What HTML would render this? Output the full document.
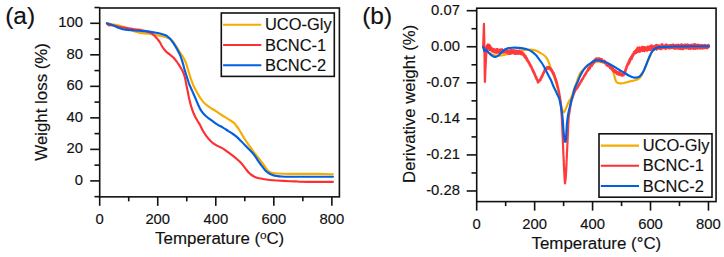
<!DOCTYPE html>
<html><head><meta charset="utf-8"><style>
html,body{margin:0;padding:0;background:#fff;width:724px;height:257px;overflow:hidden;}
svg{display:block;}
</style></head><body>
<svg width="724" height="257" viewBox="0 0 724 257">
<rect width="724" height="257" fill="#fff"/>
<g fill="none" stroke-width="2.15" stroke-linejoin="round" stroke-linecap="round">
<path d="M106.90,23.20 C107.42,23.32 108.90,23.68 110.00,23.90 C111.10,24.12 112.33,24.28 113.50,24.50 C114.67,24.72 115.48,24.85 117.00,25.20 C118.52,25.55 120.93,26.08 122.60,26.60 C124.27,27.12 125.60,27.75 127.00,28.30 C128.40,28.85 129.67,29.37 131.00,29.90 C132.33,30.43 133.67,31.05 135.00,31.50 C136.33,31.95 137.83,32.33 139.00,32.60 C140.17,32.87 140.33,32.90 142.00,33.10 C143.67,33.30 146.67,33.47 149.00,33.80 C151.33,34.13 154.17,34.77 156.00,35.10 C157.83,35.43 158.75,35.58 160.00,35.80 C161.25,36.02 162.33,36.12 163.50,36.40 C164.67,36.68 165.92,37.08 167.00,37.50 C168.08,37.92 169.08,38.32 170.00,38.90 C170.92,39.48 171.70,40.15 172.50,41.00 C173.30,41.85 174.05,42.92 174.80,44.00 C175.55,45.08 176.25,46.25 177.00,47.50 C177.75,48.75 178.58,50.33 179.30,51.50 C180.02,52.67 180.70,53.67 181.30,54.50 C181.90,55.33 182.37,55.62 182.90,56.50 C183.43,57.38 183.98,58.72 184.50,59.80 C185.02,60.88 185.55,61.83 186.00,63.00 C186.45,64.17 186.82,65.53 187.20,66.80 C187.58,68.07 187.92,69.32 188.30,70.60 C188.68,71.88 189.10,73.22 189.50,74.50 C189.90,75.78 190.30,77.12 190.70,78.30 C191.10,79.48 191.52,80.57 191.90,81.60 C192.28,82.63 192.57,83.47 193.00,84.50 C193.43,85.53 193.98,86.75 194.50,87.80 C195.02,88.85 195.45,89.63 196.10,90.80 C196.75,91.97 197.72,93.63 198.40,94.80 C199.08,95.97 199.43,96.67 200.20,97.80 C200.97,98.93 201.97,100.42 203.00,101.60 C204.03,102.78 205.07,103.80 206.40,104.90 C207.73,106.00 209.43,107.17 211.00,108.20 C212.57,109.23 214.22,110.10 215.80,111.10 C217.38,112.10 218.95,113.18 220.50,114.20 C222.05,115.22 223.60,116.25 225.10,117.20 C226.60,118.15 228.07,119.00 229.50,119.90 C230.93,120.80 232.58,121.65 233.70,122.60 C234.82,123.55 235.32,124.45 236.20,125.60 C237.08,126.75 237.97,127.90 239.00,129.50 C240.03,131.10 241.40,133.53 242.40,135.20 C243.40,136.87 244.08,138.07 245.00,139.50 C245.92,140.93 246.97,142.43 247.90,143.80 C248.83,145.17 249.70,146.42 250.60,147.70 C251.50,148.98 252.57,150.52 253.30,151.50 C254.03,152.48 254.22,152.65 255.00,153.60 C255.78,154.55 256.98,155.92 258.00,157.20 C259.02,158.48 260.07,159.90 261.10,161.30 C262.13,162.70 263.17,164.17 264.20,165.60 C265.23,167.03 266.33,168.80 267.30,169.90 C268.27,171.00 269.13,171.68 270.00,172.20 C270.87,172.72 271.38,172.78 272.50,173.00 C273.62,173.22 273.78,173.35 276.70,173.50 C279.62,173.65 282.78,173.83 290.00,173.90 C297.22,173.97 312.85,173.83 320.00,173.90 C327.15,173.97 330.75,174.23 332.90,174.30" stroke="#f6ab00"/>
<path d="M107.00,23.50 C107.17,23.68 107.62,24.28 108.00,24.60 C108.38,24.92 108.80,25.30 109.30,25.40 C109.80,25.50 110.22,25.17 111.00,25.20 C111.78,25.23 112.83,25.38 114.00,25.60 C115.17,25.82 116.33,26.17 118.00,26.50 C119.67,26.83 121.83,27.25 124.00,27.60 C126.17,27.95 129.17,28.32 131.00,28.60 C132.83,28.88 133.17,29.03 135.00,29.30 C136.83,29.57 140.02,29.85 142.00,30.20 C143.98,30.55 145.38,30.92 146.90,31.40 C148.42,31.88 149.93,32.47 151.10,33.10 C152.27,33.73 153.08,34.47 153.90,35.20 C154.72,35.93 155.30,36.73 156.00,37.50 C156.70,38.27 157.45,39.00 158.10,39.80 C158.75,40.60 159.20,41.13 159.90,42.30 C160.60,43.47 161.53,45.55 162.30,46.80 C163.07,48.05 163.72,48.87 164.50,49.80 C165.28,50.73 166.08,51.60 167.00,52.40 C167.92,53.20 168.95,53.73 170.00,54.60 C171.05,55.47 172.22,56.48 173.30,57.60 C174.38,58.72 175.58,60.13 176.50,61.30 C177.42,62.47 178.12,63.55 178.80,64.60 C179.48,65.65 180.02,66.62 180.60,67.60 C181.18,68.58 181.78,69.48 182.30,70.50 C182.82,71.52 183.25,72.45 183.70,73.70 C184.15,74.95 184.62,76.45 185.00,78.00 C185.38,79.55 185.67,81.33 186.00,83.00 C186.33,84.67 186.70,86.58 187.00,88.00 C187.30,89.42 187.55,90.25 187.80,91.50 C188.05,92.75 188.25,94.20 188.50,95.50 C188.75,96.80 188.93,97.75 189.30,99.30 C189.67,100.85 190.18,102.98 190.70,104.80 C191.22,106.62 191.82,108.53 192.40,110.20 C192.98,111.87 193.55,113.37 194.20,114.80 C194.85,116.23 195.63,117.60 196.30,118.80 C196.97,120.00 197.58,120.97 198.20,122.00 C198.82,123.03 199.22,123.53 200.00,125.00 C200.78,126.47 201.77,128.85 202.90,130.80 C204.03,132.75 205.35,134.83 206.80,136.70 C208.25,138.57 209.82,140.47 211.60,142.00 C213.38,143.53 215.93,144.97 217.50,145.90 C219.07,146.83 219.83,146.98 221.00,147.60 C222.17,148.22 223.33,148.83 224.50,149.60 C225.67,150.37 226.92,151.40 228.00,152.20 C229.08,153.00 230.00,153.65 231.00,154.40 C232.00,155.15 233.03,155.93 234.00,156.70 C234.97,157.47 235.90,158.23 236.80,159.00 C237.70,159.77 238.45,160.37 239.40,161.30 C240.35,162.23 241.48,163.38 242.50,164.60 C243.52,165.82 244.47,167.27 245.50,168.60 C246.53,169.93 247.70,171.53 248.70,172.60 C249.70,173.67 250.47,174.28 251.50,175.00 C252.53,175.72 253.65,176.35 254.90,176.90 C256.15,177.45 257.45,177.92 259.00,178.30 C260.55,178.68 262.37,178.92 264.20,179.20 C266.03,179.48 267.92,179.78 270.00,180.00 C272.08,180.22 273.37,180.30 276.70,180.50 C280.03,180.70 286.78,181.05 290.00,181.20 C293.22,181.35 294.33,181.31 296.00,181.40 C297.67,181.49 297.67,181.68 300.00,181.75 C302.33,181.82 304.52,181.82 310.00,181.85 C315.48,181.88 329.08,181.89 332.90,181.90" stroke="#ff2e32"/>
<path d="M106.90,23.40 C107.42,23.55 108.78,23.92 110.00,24.30 C111.22,24.68 112.80,25.12 114.20,25.70 C115.60,26.28 117.00,27.22 118.40,27.80 C119.80,28.38 121.08,28.85 122.60,29.20 C124.12,29.55 125.52,29.68 127.50,29.90 C129.48,30.12 132.08,30.32 134.50,30.50 C136.92,30.68 139.58,30.82 142.00,31.00 C144.42,31.18 146.67,31.31 149.00,31.60 C151.33,31.89 153.90,32.35 156.00,32.75 C158.10,33.15 160.00,33.58 161.60,34.00 C163.20,34.42 164.45,34.75 165.60,35.30 C166.75,35.85 167.68,36.65 168.50,37.30 C169.32,37.95 169.78,38.37 170.50,39.20 C171.22,40.03 172.05,41.23 172.80,42.30 C173.55,43.37 174.22,44.32 175.00,45.60 C175.78,46.88 176.75,48.63 177.50,50.00 C178.25,51.37 178.95,52.63 179.50,53.80 C180.05,54.97 180.37,55.83 180.80,57.00 C181.23,58.17 181.68,59.50 182.10,60.80 C182.52,62.10 182.92,63.43 183.30,64.80 C183.68,66.17 184.02,67.63 184.40,69.00 C184.78,70.37 185.20,71.70 185.60,73.00 C186.00,74.30 186.40,75.55 186.80,76.80 C187.20,78.05 187.62,79.33 188.00,80.50 C188.38,81.67 188.72,82.77 189.10,83.80 C189.48,84.83 189.92,85.80 190.30,86.70 C190.68,87.60 190.82,87.90 191.40,89.20 C191.98,90.50 193.10,92.93 193.80,94.50 C194.50,96.07 194.90,96.93 195.60,98.60 C196.30,100.27 197.10,102.53 198.00,104.50 C198.90,106.47 199.92,108.68 201.00,110.40 C202.08,112.12 203.33,113.57 204.50,114.80 C205.67,116.03 206.58,116.70 208.00,117.80 C209.42,118.90 211.33,120.23 213.00,121.40 C214.67,122.57 216.33,123.77 218.00,124.80 C219.67,125.83 221.33,126.60 223.00,127.60 C224.67,128.60 226.33,129.73 228.00,130.80 C229.67,131.87 231.50,132.95 233.00,134.00 C234.50,135.05 235.67,135.93 237.00,137.10 C238.33,138.27 239.70,139.70 241.00,141.00 C242.30,142.30 243.55,143.60 244.80,144.90 C246.05,146.20 247.38,147.65 248.50,148.80 C249.62,149.95 250.42,150.60 251.50,151.80 C252.58,153.00 253.92,154.53 255.00,156.00 C256.08,157.47 257.00,159.13 258.00,160.60 C259.00,162.07 259.97,163.38 261.00,164.80 C262.03,166.22 263.20,167.90 264.20,169.10 C265.20,170.30 266.08,171.22 267.00,172.00 C267.92,172.78 268.70,173.27 269.70,173.80 C270.70,174.33 271.78,174.83 273.00,175.20 C274.22,175.57 275.62,175.78 277.00,176.00 C278.38,176.22 279.13,176.38 281.30,176.50 C283.47,176.62 285.22,176.71 290.00,176.75 C294.78,176.79 302.85,176.75 310.00,176.75 C317.15,176.75 329.08,176.75 332.90,176.75" stroke="#0060e0"/>
</g>
<g fill="none" stroke-width="2.15" stroke-linejoin="round" stroke-linecap="round">
<path d="M483.40,47.20 C483.55,47.77 483.93,50.17 484.30,50.60 C484.67,51.03 484.98,49.57 485.60,49.80 C486.22,50.03 487.10,51.30 488.00,52.00 C488.90,52.70 490.00,53.47 491.00,54.00 C492.00,54.53 493.00,54.93 494.00,55.20 C495.00,55.47 496.10,55.53 497.00,55.60 C497.90,55.67 498.43,55.65 499.40,55.60 C500.37,55.55 501.52,55.53 502.80,55.30 C504.08,55.07 505.67,54.58 507.10,54.20 C508.53,53.82 509.97,53.40 511.40,53.00 C512.83,52.60 514.27,52.17 515.70,51.80 C517.13,51.43 518.58,51.10 520.00,50.80 C521.42,50.50 522.63,50.20 524.20,50.00 C525.77,49.80 527.97,49.62 529.40,49.60 C530.83,49.58 531.52,49.67 532.80,49.90 C534.08,50.13 535.90,50.52 537.10,51.00 C538.30,51.48 539.02,52.22 540.00,52.80 C540.98,53.38 541.98,53.75 543.00,54.50 C544.02,55.25 545.27,56.30 546.10,57.30 C546.93,58.30 547.43,59.33 548.00,60.50 C548.57,61.67 549.00,62.92 549.50,64.30 C550.00,65.68 550.50,67.43 551.00,68.80 C551.50,70.17 551.92,71.00 552.50,72.50 C553.08,74.00 553.87,75.97 554.50,77.80 C555.13,79.63 555.72,81.47 556.30,83.50 C556.88,85.53 557.48,87.83 558.00,90.00 C558.52,92.17 558.92,94.17 559.40,96.50 C559.88,98.83 560.47,101.92 560.90,104.00 C561.33,106.08 561.65,107.70 562.00,109.00 C562.35,110.30 562.70,111.22 563.00,111.80 C563.30,112.38 563.50,112.63 563.80,112.50 C564.10,112.37 564.40,111.78 564.80,111.00 C565.20,110.22 565.73,108.90 566.20,107.80 C566.67,106.70 567.13,105.48 567.60,104.40 C568.07,103.32 568.43,102.33 569.00,101.30 C569.57,100.27 570.38,99.50 571.00,98.20 C571.62,96.90 572.08,95.28 572.70,93.50 C573.32,91.72 574.02,89.45 574.70,87.50 C575.38,85.55 576.17,83.58 576.80,81.80 C577.43,80.02 577.88,78.33 578.50,76.80 C579.12,75.27 579.78,73.70 580.50,72.60 C581.22,71.50 581.97,71.07 582.80,70.20 C583.63,69.33 584.58,68.28 585.50,67.40 C586.42,66.52 587.35,65.57 588.30,64.90 C589.25,64.23 589.98,63.90 591.20,63.40 C592.42,62.90 594.22,62.20 595.60,61.90 C596.98,61.60 598.22,61.52 599.50,61.60 C600.78,61.68 602.13,62.03 603.30,62.40 C604.47,62.77 605.47,63.23 606.50,63.80 C607.53,64.37 608.67,65.13 609.50,65.80 C610.33,66.47 610.95,67.07 611.50,67.80 C612.05,68.53 612.42,69.25 612.80,70.20 C613.18,71.15 613.50,72.37 613.80,73.50 C614.10,74.63 614.32,75.92 614.60,77.00 C614.88,78.08 615.15,79.12 615.50,80.00 C615.85,80.88 616.12,81.77 616.70,82.30 C617.28,82.83 618.10,83.03 619.00,83.20 C619.90,83.37 620.93,83.43 622.10,83.30 C623.27,83.17 624.70,82.72 626.00,82.40 C627.30,82.08 628.73,81.68 629.90,81.40 C631.07,81.12 631.97,80.95 633.00,80.70 C634.03,80.45 635.13,80.25 636.10,79.90 C637.07,79.55 638.02,79.15 638.80,78.60 C639.58,78.05 640.17,77.48 640.80,76.60 C641.43,75.72 642.07,74.35 642.60,73.30 C643.13,72.25 643.53,71.35 644.00,70.30 C644.47,69.25 644.90,68.22 645.40,67.00 C645.90,65.78 646.48,64.22 647.00,63.00 C647.52,61.78 648.00,60.83 648.50,59.70 C649.00,58.57 649.50,57.35 650.00,56.20 C650.50,55.05 650.95,53.83 651.50,52.80 C652.05,51.77 652.68,50.72 653.30,50.00 C653.92,49.28 654.55,48.90 655.20,48.50 C655.85,48.10 656.40,47.83 657.20,47.60 C658.00,47.37 658.87,47.22 660.00,47.10 C661.13,46.98 661.70,47.00 664.00,46.90 C666.30,46.80 669.47,46.60 673.80,46.50 C678.13,46.40 684.13,46.33 690.00,46.30 C695.87,46.27 705.83,46.30 709.00,46.30" stroke="#f6ab00"/>
<path d="M483.10,47.50 L483.12,47.05 L483.13,46.60 L483.15,46.15 L483.17,45.70 L483.18,45.25 L483.20,44.80 L483.22,44.35 L483.23,43.90 L483.25,43.45 L483.27,43.00 L483.28,42.55 L483.30,42.10 L483.32,41.65 L483.33,41.20 L483.35,40.75 L483.37,40.30 L483.38,39.85 L483.40,39.40 L483.42,38.95 L483.43,38.50 L483.45,38.05 L483.47,37.60 L483.48,37.15 L483.50,36.70 L483.52,36.25 L483.53,35.80 L483.55,35.35 L483.57,34.90 L483.58,34.45 L483.60,34.00 L483.62,33.54 L483.63,33.07 L483.65,32.61 L483.66,32.15 L483.68,31.68 L483.70,31.22 L483.71,30.75 L483.73,30.29 L483.74,29.83 L483.76,29.36 L483.77,28.90 L483.79,28.44 L483.81,27.97 L483.82,27.51 L483.84,27.05 L483.85,26.58 L483.87,26.12 L483.89,25.65 L483.90,25.19 L483.92,24.73 L483.93,24.26 L483.95,23.80 L483.96,24.25 L483.97,24.70 L483.98,25.15 L483.99,25.60 L484.00,26.05 L484.01,26.50 L484.02,26.95 L484.03,27.40 L484.04,27.85 L484.05,28.30 L484.06,28.75 L484.07,29.20 L484.08,29.65 L484.09,30.10 L484.10,30.55 L484.11,31.00 L484.12,31.45 L484.12,31.90 L484.13,32.35 L484.14,32.80 L484.15,33.25 L484.16,33.70 L484.17,34.15 L484.18,34.60 L484.19,35.05 L484.20,35.50 L484.21,35.95 L484.22,36.40 L484.23,36.85 L484.24,37.30 L484.25,37.75 L484.26,38.20 L484.27,38.65 L484.28,39.10 L484.29,39.55 L484.30,40.00 L484.31,40.46 L484.31,40.92 L484.32,41.38 L484.32,41.83 L484.33,42.29 L484.34,42.75 L484.34,43.21 L484.35,43.67 L484.36,44.12 L484.36,44.58 L484.37,45.04 L484.38,45.50 L484.38,45.96 L484.39,46.42 L484.39,46.88 L484.40,47.33 L484.41,47.79 L484.41,48.25 L484.42,48.71 L484.43,49.17 L484.43,49.62 L484.44,50.08 L484.44,50.54 L484.45,51.00 L484.46,51.46 L484.46,51.92 L484.47,52.38 L484.48,52.83 L484.48,53.29 L484.49,53.75 L484.49,54.21 L484.50,54.67 L484.51,55.12 L484.51,55.58 L484.52,56.04 L484.53,56.50 L484.53,56.96 L484.54,57.42 L484.54,57.88 L484.55,58.33 L484.56,58.79 L484.56,59.25 L484.57,59.71 L484.58,60.17 L484.58,60.62 L484.59,61.08 L484.59,61.54 L484.60,62.00 L484.61,62.46 L484.61,62.91 L484.62,63.37 L484.62,63.83 L484.63,64.29 L484.63,64.74 L484.64,65.20 L484.65,65.66 L484.65,66.11 L484.66,66.57 L484.66,67.03 L484.67,67.49 L484.67,67.94 L484.68,68.40 L484.69,68.86 L484.69,69.31 L484.70,69.77 L484.70,70.23 L484.71,70.69 L484.71,71.14 L484.72,71.60 L484.73,72.06 L484.73,72.51 L484.74,72.97 L484.74,73.43 L484.75,73.89 L484.75,74.34 L484.76,74.80 L484.77,75.26 L484.77,75.71 L484.78,76.17 L484.78,76.63 L484.79,77.09 L484.79,77.54 L484.80,78.00 L484.82,78.50 L484.84,79.00 L484.86,79.50 L484.88,80.00 L484.89,80.50 L484.91,81.00 L484.93,81.50 L484.95,82.00 L484.97,81.54 L484.98,81.08 L485.00,80.62 L485.02,80.15 L485.04,79.69 L485.05,79.23 L485.07,78.77 L485.09,78.31 L485.11,77.85 L485.12,77.38 L485.14,76.92 L485.16,76.46 L485.17,76.00 L485.19,75.54 L485.21,75.08 L485.23,74.62 L485.24,74.15 L485.26,73.69 L485.28,73.23 L485.30,72.77 L485.31,72.31 L485.33,71.85 L485.35,71.38 L485.37,70.92 L485.38,70.46 L485.40,70.00 L485.42,69.55 L485.45,69.09 L485.47,68.64 L485.50,68.18 L485.52,67.73 L485.55,67.27 L485.57,66.82 L485.59,66.36 L485.62,65.91 L485.64,65.45 L485.67,65.00 L485.69,64.55 L485.72,64.09 L485.74,63.64 L485.76,63.18 L485.79,62.73 L485.81,62.27 L485.84,61.82 L485.86,61.36 L485.88,60.91 L485.91,60.45 L485.93,60.00 L485.96,59.55 L485.98,59.09 L486.01,58.64 L486.03,58.18 L486.05,57.73 L486.08,57.27 L486.10,56.82 L486.13,56.36 L486.15,55.91 L486.18,55.45 L486.20,55.00 L486.26,54.55 L486.32,54.11 L486.37,53.66 L486.43,53.21 L486.49,52.76 L486.55,52.32 L486.61,51.87 L486.66,51.42 L486.72,50.97 L486.78,50.53 L486.84,50.08 L486.89,49.63 L486.95,49.18 L487.01,48.74 L487.07,48.29 L487.13,47.84 L487.18,47.39 L487.24,46.95 L487.30,46.50 L487.45,46.00 L487.60,45.50 L487.75,45.00 L487.90,44.50 L488.35,44.90 L488.80,46.55 L489.04,44.86 L489.28,47.08 L489.52,45.26 L489.76,48.46 L490.00,45.50 L490.22,48.95 L490.44,46.27 L490.66,50.09 L490.88,47.58 L491.10,50.54 L491.51,48.08 L491.92,51.37 L492.33,48.56 L492.74,51.74 L493.16,48.88 L493.57,51.50 L493.98,49.16 L494.39,52.50 L494.80,50.17 L495.26,52.31 L495.71,49.68 L496.17,52.94 L496.63,48.99 L497.09,52.25 L497.54,49.04 L498.00,52.81 L498.46,49.91 L498.92,52.37 L499.38,50.10 L499.84,52.85 L500.30,49.36 L500.79,52.97 L501.27,49.24 L501.76,52.73 L502.24,49.38 L502.73,52.65 L503.21,50.30 L503.70,52.74 L504.19,50.54 L504.67,52.30 L505.16,49.67 L505.64,52.34 L506.13,50.77 L506.61,52.58 L507.10,49.86 L507.57,52.80 L508.05,51.07 L508.52,53.74 L508.99,50.97 L509.46,53.78 L509.94,50.25 L510.41,53.80 L510.88,49.91 L511.35,53.49 L511.83,50.16 L512.30,52.78 L512.76,50.22 L513.23,53.43 L513.69,50.29 L514.15,52.88 L514.62,50.24 L515.08,54.01 L515.55,51.18 L516.01,53.18 L516.47,50.50 L516.94,53.87 L517.40,50.93 L517.84,53.07 L518.29,51.10 L518.73,53.83 L519.17,50.58 L519.61,53.70 L520.06,51.28 L520.50,53.88 L520.93,51.62 L521.37,54.37 L521.80,52.45 L522.23,54.48 L522.67,52.39 L523.10,54.87 L523.40,53.22 L523.70,55.41 L524.00,54.05 L524.30,56.73 L524.60,54.84 L524.90,57.29 L525.20,55.79 L525.50,58.19 L525.80,56.19 L526.05,58.53 L526.31,57.74 L526.56,59.90 L526.82,57.81 L527.07,60.51 L527.33,59.06 L527.58,61.51 L527.84,60.11 L528.09,61.76 L528.35,61.06 L528.60,62.80 L528.83,61.82 L529.06,63.41 L529.29,62.41 L529.52,64.79 L529.75,63.55 L529.98,65.47 L530.21,64.33 L530.44,66.44 L530.67,65.07 L530.90,66.88 L531.11,66.19 L531.32,67.56 L531.53,66.85 L531.74,68.67 L531.95,67.93 L532.15,69.51 L532.36,68.68 L532.57,70.66 L532.78,69.66 L532.99,71.67 L533.20,70.27 L533.38,72.24 L533.57,71.13 L533.75,73.25 L533.94,71.72 L534.12,73.90 L534.31,72.81 L534.49,74.86 L534.68,73.39 L534.86,75.48 L535.05,74.32 L535.23,76.73 L535.42,75.36 L535.60,77.05 L535.79,76.37 L535.98,78.25 L536.17,76.91 L536.37,79.27 L536.56,77.63 L536.75,79.61 L536.94,78.95 L537.13,80.47 L537.33,79.81 L537.52,81.64 L537.71,80.18 L537.90,82.63 L538.28,80.77 L538.67,82.07 L539.05,80.19 L539.43,81.22 L539.82,79.36 L540.20,80.45 L540.40,79.13 L540.60,80.15 L540.80,78.16 L541.00,78.97 L541.20,77.12 L541.40,78.37 L541.60,76.69 L541.80,77.29 L542.00,75.55 L542.20,76.57 L542.40,74.88 L542.60,75.80 L542.81,73.50 L543.02,74.79 L543.23,72.92 L543.44,73.72 L543.65,72.24 L543.85,73.24 L544.06,71.48 L544.27,72.53 L544.48,70.04 L544.69,71.09 L544.90,69.14 L545.22,70.45 L545.54,68.46 L545.86,69.93 L546.18,68.00 L546.50,69.07 L547.00,67.15 L547.50,68.76 L548.00,67.03 L548.53,68.72 L549.07,66.93 L549.60,69.07 L549.98,67.78 L550.35,69.37 L550.73,68.51 L551.10,70.24 L551.34,69.09 L551.58,71.25 L551.82,69.98 L552.06,71.68 L552.30,70.70 L552.54,72.78 L552.78,71.82 L553.02,73.74 L553.26,72.26 L553.50,73.97 L553.66,72.88 L553.83,74.86 L553.99,74.19 L554.16,76.14 L554.32,74.87 L554.49,76.90 L554.65,75.70 L554.81,77.70 L554.98,76.81 L555.14,78.37 L555.31,77.86 L555.47,79.63 L555.64,78.24 L555.80,80.37 L555.94,79.14 L556.07,81.15 L556.21,80.39 L556.35,82.08 L556.48,80.86 L556.62,82.74 L556.75,82.04 L556.89,83.80 L557.03,82.76 L557.16,84.78 L557.30,83.98 L557.41,85.72 L557.52,84.72 L557.63,86.87 L557.74,85.74 L557.85,87.82 L557.95,86.81 L558.06,87.85 L558.17,88.06 L558.28,88.71 L558.39,88.84 L558.50,89.71 L558.59,89.84 L558.68,90.53 L558.77,90.72 L558.87,91.54 L558.96,91.57 L559.05,92.46 L559.14,92.52 L559.23,93.28 L559.33,93.47 L559.42,94.20 L559.51,94.37 L559.60,95.18 L559.67,95.34 L559.74,96.05 L559.81,96.17 L559.88,96.94 L559.95,97.09 L560.02,98.00 L560.08,97.99 L560.15,98.84 L560.22,98.98 L560.29,99.80 L560.36,99.89 L560.43,100.78 L560.50,100.80 L560.55,101.60 L560.59,101.71 L560.64,102.57 L560.69,102.68 L560.73,103.54 L560.78,103.71 L560.83,104.48 L560.87,104.54 L560.92,105.37 L560.97,105.49 L561.01,106.30 L561.06,106.48 L561.11,107.24 L561.15,107.44 L561.20,108.17 L561.23,108.26 L561.25,109.07 L561.28,109.18 L561.31,110.06 L561.34,110.04 L561.36,110.84 L561.39,110.97 L561.42,111.83 L561.45,112.00 L561.47,112.69 L561.50,112.87 L561.53,113.55 L561.55,113.73 L561.58,114.60 L561.61,114.68 L561.64,115.50 L561.66,115.53 L561.69,116.29 L561.72,116.41 L561.75,117.28 L561.77,117.31 L561.80,118.20 L561.82,118.25 L561.85,119.05 L561.87,119.15 L561.89,120.06 L561.91,120.05 L561.94,120.89 L561.96,120.97 L561.98,121.80 L562.00,121.99 L562.03,122.64 L562.05,122.90 L562.07,123.57 L562.10,123.80 L562.12,124.53 L562.14,124.62 L562.16,125.45 L562.19,125.57 L562.21,126.37 L562.23,126.50 L562.25,127.25 L562.28,127.33 L562.30,128.15 L562.32,128.34 L562.34,129.16 L562.36,129.18 L562.38,129.99 L562.40,130.16 L562.42,130.94 L562.43,131.05 L562.45,131.82 L562.47,132.07 L562.49,132.74 L562.51,132.86 L562.53,133.65 L562.55,133.84 L562.57,134.58 L562.59,134.80 L562.61,135.50 L562.63,135.69 L562.65,136.42 L562.67,136.68 L562.68,137.34 L562.70,137.58 L562.72,138.32 L562.74,138.52 L562.76,139.17 L562.78,139.38 L562.80,140.15 L562.82,140.26 L562.84,141.02 L562.86,141.23 L562.88,142.00 L562.90,142.22 L562.92,143.01 L562.93,143.11 L562.95,143.80 L562.97,143.99 L562.99,144.73 L563.01,144.89 L563.03,145.68 L563.05,145.89 L563.07,146.56 L563.09,146.72 L563.11,147.52 L563.13,147.63 L563.15,148.47 L563.17,148.53 L563.18,149.37 L563.20,149.56 L563.22,150.28 L563.24,150.40 L563.26,151.27 L563.28,151.39 L563.30,152.10 L563.32,152.27 L563.34,153.17 L563.36,153.21 L563.39,153.95 L563.41,154.23 L563.43,154.89 L563.45,155.13 L563.47,155.81 L563.49,156.08 L563.51,156.84 L563.54,156.87 L563.56,157.69 L563.58,157.79 L563.60,158.66 L563.62,158.75 L563.64,159.67 L563.66,159.65 L563.69,160.45 L563.71,160.68 L563.73,161.47 L563.75,161.51 L563.77,162.32 L563.79,162.54 L563.81,163.37 L563.84,163.50 L563.86,164.22 L563.88,164.39 L563.90,165.20 L563.92,165.22 L563.95,166.04 L563.97,166.18 L563.99,167.05 L564.02,167.08 L564.04,167.95 L564.06,167.99 L564.08,168.84 L564.11,169.00 L564.13,169.74 L564.15,169.86 L564.18,170.70 L564.20,170.87 L564.22,171.58 L564.25,171.72 L564.27,172.57 L564.29,172.64 L564.32,173.46 L564.34,173.60 L564.36,174.34 L564.38,174.49 L564.41,175.25 L564.43,175.45 L564.45,176.29 L564.48,176.34 L564.50,177.10 L564.54,177.32 L564.57,178.12 L564.61,178.16 L564.64,179.03 L564.68,179.02 L564.71,179.86 L564.75,179.92 L564.79,180.81 L564.82,180.91 L564.86,181.65 L564.89,181.85 L564.93,182.55 L564.96,182.61 L565.00,183.40 L565.06,182.64 L565.13,182.44 L565.19,181.75 L565.25,181.57 L565.32,180.76 L565.38,180.50 L565.45,179.81 L565.51,179.64 L565.57,178.78 L565.64,178.57 L565.70,177.88 L565.73,177.78 L565.75,176.95 L565.78,176.79 L565.81,176.00 L565.83,175.91 L565.86,175.05 L565.89,174.98 L565.92,174.13 L565.94,173.96 L565.97,173.27 L566.00,173.02 L566.02,172.24 L566.05,172.11 L566.08,171.45 L566.10,171.32 L566.13,170.50 L566.16,170.39 L566.18,169.59 L566.21,169.39 L566.24,168.65 L566.27,168.53 L566.29,167.66 L566.32,167.58 L566.35,166.71 L566.37,166.69 L566.40,165.86 L566.42,165.73 L566.44,164.94 L566.46,164.75 L566.48,163.97 L566.50,163.93 L566.52,163.07 L566.54,162.96 L566.55,162.21 L566.57,162.10 L566.59,161.28 L566.61,161.13 L566.63,160.44 L566.65,160.30 L566.67,159.58 L566.69,159.40 L566.71,158.57 L566.73,158.48 L566.75,157.68 L566.77,157.61 L566.79,156.85 L566.81,156.66 L566.83,155.82 L566.85,155.75 L566.86,155.00 L566.88,154.81 L566.90,154.14 L566.92,153.92 L566.94,153.12 L566.96,153.11 L566.98,152.22 L567.00,152.25 L567.02,151.35 L567.05,151.32 L567.07,150.44 L567.09,150.31 L567.12,149.45 L567.14,149.47 L567.16,148.53 L567.18,148.47 L567.21,147.63 L567.23,147.54 L567.25,146.67 L567.28,146.70 L567.30,145.87 L567.32,145.78 L567.35,144.96 L567.37,144.72 L567.39,143.95 L567.42,143.83 L567.44,143.06 L567.46,142.96 L567.48,142.21 L567.51,142.05 L567.53,141.25 L567.55,141.08 L567.58,140.32 L567.60,140.21 L567.62,139.33 L567.64,139.21 L567.66,138.51 L567.68,138.29 L567.70,137.54 L567.72,137.33 L567.73,136.66 L567.75,136.52 L567.77,135.64 L567.79,135.63 L567.81,134.68 L567.83,134.69 L567.85,133.85 L567.87,133.65 L567.89,132.94 L567.91,132.78 L567.93,131.98 L567.95,131.87 L567.97,131.08 L567.98,131.00 L568.00,130.17 L568.02,130.01 L568.04,129.15 L568.06,129.14 L568.08,128.33 L568.10,128.13 L568.12,127.32 L568.15,127.17 L568.18,126.52 L568.20,126.34 L568.23,125.53 L568.25,125.36 L568.27,124.70 L568.30,124.45 L568.33,123.66 L568.35,123.58 L568.38,122.71 L568.40,122.72 L568.43,121.80 L568.45,121.68 L568.48,121.01 L568.50,120.76 L568.53,120.05 L568.55,119.89 L568.58,119.20 L568.60,119.01 L568.62,118.27 L568.65,118.05 L568.68,117.33 L568.70,117.22 L568.77,116.39 L568.84,116.23 L568.91,115.55 L568.99,115.35 L569.06,114.55 L569.13,114.48 L569.20,113.60 L569.27,113.60 L569.34,112.80 L569.41,112.59 L569.49,111.81 L569.56,111.79 L569.63,110.95 L569.70,110.89 L569.77,110.04 L569.84,109.89 L569.91,109.19 L569.99,108.95 L570.06,108.21 L570.13,108.19 L570.20,107.27 L570.29,107.20 L570.37,106.37 L570.46,106.34 L570.55,105.41 L570.63,105.35 L570.72,104.55 L570.81,104.41 L570.89,103.65 L570.98,103.42 L571.07,102.63 L571.15,102.62 L571.24,101.72 L571.33,101.59 L571.41,100.82 L571.50,100.66 L571.66,99.82 L571.82,99.74 L571.98,98.88 L572.13,98.78 L572.29,98.07 L572.45,97.92 L572.61,97.14 L572.77,97.06 L572.92,96.15 L573.08,96.16 L573.24,95.27 L573.40,95.09 L573.59,94.37 L573.78,94.28 L573.97,93.48 L574.16,93.33 L574.35,92.55 L574.54,92.54 L574.73,91.75 L574.92,91.60 L575.11,90.80 L575.30,90.67 L575.56,89.89 L575.83,89.98 L576.09,88.82 L576.35,89.31 L576.62,87.93 L576.88,88.54 L577.15,87.41 L577.41,88.07 L577.67,86.67 L577.94,87.05 L578.20,85.62 L578.43,86.57 L578.66,85.11 L578.89,85.52 L579.12,84.33 L579.35,84.60 L579.58,83.54 L579.81,84.19 L580.04,82.82 L580.27,83.05 L580.50,81.96 L580.76,82.16 L581.01,80.97 L581.27,81.62 L581.52,79.98 L581.78,80.72 L582.03,79.15 L582.29,79.59 L582.54,78.55 L582.80,79.18 L583.04,77.80 L583.28,78.03 L583.52,76.78 L583.76,77.19 L584.00,75.91 L584.24,76.25 L584.48,75.21 L584.72,75.82 L584.96,74.41 L585.20,74.96 L585.48,73.55 L585.75,74.15 L586.02,72.47 L586.30,73.14 L586.58,71.87 L586.85,72.02 L587.12,70.73 L587.40,71.23 L587.67,70.15 L587.94,70.69 L588.21,68.28 L588.49,69.82 L588.76,67.37 L589.03,69.46 L589.30,67.10 L589.57,68.26 L589.84,66.35 L590.11,68.37 L590.39,65.72 L590.66,66.80 L590.93,65.10 L591.20,66.05 L591.49,64.13 L591.77,66.02 L592.06,63.60 L592.34,64.51 L592.63,61.96 L592.91,64.50 L593.20,61.12 L593.49,63.01 L593.78,61.03 L594.06,63.00 L594.35,60.20 L594.64,62.06 L594.92,59.67 L595.21,60.70 L595.50,58.94 L595.96,61.00 L596.41,58.40 L596.87,60.71 L597.33,58.59 L597.79,60.56 L598.24,58.50 L598.70,60.45 L599.14,58.23 L599.59,60.46 L600.03,58.81 L600.47,61.52 L600.91,58.91 L601.36,61.13 L601.80,59.14 L602.24,62.20 L602.69,60.43 L603.13,62.16 L603.57,60.91 L604.01,62.46 L604.46,60.66 L604.90,63.32 L605.29,61.34 L605.67,63.66 L606.06,62.80 L606.45,65.02 L606.84,62.66 L607.23,65.77 L607.61,63.39 L608.00,65.94 L608.34,63.96 L608.69,66.18 L609.03,64.85 L609.38,67.19 L609.72,65.90 L610.07,68.01 L610.41,66.39 L610.76,68.59 L611.10,67.01 L611.44,69.04 L611.79,67.63 L612.13,69.91 L612.48,67.62 L612.82,70.84 L613.17,68.33 L613.51,71.34 L613.86,69.50 L614.20,72.08 L614.59,70.09 L614.98,71.80 L615.36,70.41 L615.75,72.94 L616.14,71.12 L616.52,73.40 L616.91,71.72 L617.30,74.27 L617.75,72.02 L618.20,74.16 L618.65,72.31 L619.10,74.91 L619.55,72.23 L620.00,74.94 L620.48,73.12 L620.96,75.39 L621.44,73.85 L621.92,75.56 L622.40,73.45 L622.80,75.78 L623.20,73.62 L623.60,75.26 L624.00,72.70 L624.21,74.64 L624.43,71.83 L624.64,73.01 L624.86,70.77 L625.07,72.77 L625.29,70.00 L625.50,71.87 L625.65,68.85 L625.79,70.50 L625.94,68.37 L626.08,69.64 L626.23,67.53 L626.37,68.65 L626.52,66.44 L626.66,68.20 L626.81,65.62 L626.95,66.71 L627.10,65.06 L627.31,66.06 L627.52,63.91 L627.73,65.04 L627.94,63.54 L628.15,64.66 L628.36,62.28 L628.57,63.49 L628.78,61.16 L628.99,63.72 L629.20,60.34 L629.43,62.69 L629.67,59.20 L629.90,62.01 L630.13,58.30 L630.37,60.75 L630.60,57.77 L630.83,59.57 L631.07,56.74 L631.30,59.07 L631.54,56.39 L631.79,58.81 L632.03,55.75 L632.27,57.14 L632.51,54.26 L632.76,56.76 L633.00,54.27 L633.26,55.29 L633.51,53.22 L633.77,54.52 L634.03,51.91 L634.29,53.99 L634.54,51.82 L634.80,53.48 L635.17,50.84 L635.53,52.87 L635.90,50.03 L636.27,53.01 L636.63,49.15 L637.00,51.43 L637.50,47.68 L638.00,51.90 L638.50,48.64 L639.00,50.99 L639.45,47.25 L639.90,51.79 L640.35,48.27 L640.80,50.09 L641.25,47.50 L641.70,50.66 L642.15,46.72 L642.60,51.22 L643.06,47.52 L643.52,50.42 L643.98,46.98 L644.44,51.05 L644.90,47.46 L645.36,50.11 L645.82,47.51 L646.28,50.38 L646.74,47.48 L647.20,50.73 L647.66,46.54 L648.12,50.01 L648.58,47.12 L649.04,49.32 L649.50,46.36 L649.96,50.22 L650.42,46.14 L650.89,49.18 L651.35,45.32 L651.81,49.69 L652.27,45.95 L652.73,48.84 L653.20,46.22 L653.66,49.87 L654.12,46.39 L654.58,49.16 L655.04,45.49 L655.50,48.77 L655.97,45.14 L656.43,49.57 L656.89,44.89 L657.35,49.18 L657.81,45.85 L658.28,47.98 L658.74,45.37 L659.20,48.28 L659.66,45.70 L660.12,49.16 L660.59,45.63 L661.05,49.05 L661.51,44.43 L661.97,47.88 L662.43,44.44 L662.90,48.31 L663.36,45.55 L663.82,47.94 L664.28,45.81 L664.74,48.41 L665.20,45.21 L665.67,48.96 L666.13,44.46 L666.59,47.64 L667.05,45.13 L667.51,48.15 L667.98,45.46 L668.44,47.90 L668.90,45.30 L669.36,48.61 L669.82,45.18 L670.29,47.67 L670.75,45.39 L671.21,48.22 L671.67,44.84 L672.13,47.91 L672.60,44.63 L673.06,47.87 L673.52,44.68 L673.98,48.52 L674.44,45.50 L674.90,48.76 L675.37,45.15 L675.83,48.42 L676.29,44.83 L676.75,48.58 L677.21,45.09 L677.68,47.66 L678.14,44.54 L678.60,48.97 L679.07,45.02 L679.53,48.51 L680.00,45.37 L680.47,49.02 L680.93,44.69 L681.40,47.91 L681.87,44.46 L682.33,49.14 L682.80,45.22 L683.27,49.15 L683.73,44.99 L684.20,47.81 L684.67,44.60 L685.13,48.06 L685.60,44.56 L686.07,48.45 L686.53,45.57 L687.00,48.35 L687.47,44.35 L687.93,48.26 L688.40,44.85 L688.86,48.88 L689.32,45.00 L689.77,48.28 L690.23,44.78 L690.69,48.81 L691.15,45.39 L691.60,47.63 L692.06,44.49 L692.52,48.37 L692.98,45.23 L693.44,48.92 L693.89,44.29 L694.35,48.35 L694.81,44.12 L695.27,48.83 L695.72,44.51 L696.18,47.95 L696.64,45.71 L697.10,48.58 L697.56,44.53 L698.01,48.04 L698.47,44.95 L698.93,48.40 L699.39,45.32 L699.84,48.61 L700.30,44.81 L700.76,48.10 L701.22,45.55 L701.68,48.38 L702.13,45.21 L702.59,48.65 L703.05,45.44 L703.51,48.12 L703.96,45.41 L704.42,48.14 L704.88,44.79 L705.34,47.65 L705.80,45.64 L706.25,48.26 L706.71,45.40 L707.17,48.30 L707.63,45.45 L708.08,47.64 L708.54,44.85 L709.00,46.60" stroke="#ff3a3a" stroke-width="2.2"/>
<path d="M486.6,47.5 L487.8,45.6 L489.3,47.8 L489.6,49.5" stroke="#ff2e32" stroke-width="3"/>
<path d="M483.40,47.00 C483.55,47.67 483.93,50.57 484.30,51.00 C484.67,51.43 485.15,49.63 485.60,49.60 C486.05,49.57 486.52,50.33 487.00,50.80 C487.48,51.27 488.00,51.85 488.50,52.40 C489.00,52.95 489.18,53.43 490.00,54.10 C490.82,54.77 492.40,55.95 493.40,56.40 C494.40,56.85 495.00,57.08 496.00,56.80 C497.00,56.52 498.27,55.65 499.40,54.70 C500.53,53.75 501.52,52.12 502.80,51.10 C504.08,50.08 505.52,49.17 507.10,48.60 C508.68,48.03 510.30,47.82 512.30,47.70 C514.30,47.58 516.82,47.68 519.10,47.90 C521.38,48.12 524.00,48.47 526.00,49.00 C528.00,49.53 529.53,50.17 531.10,51.10 C532.67,52.03 534.12,53.32 535.40,54.60 C536.68,55.88 537.78,57.48 538.80,58.80 C539.82,60.12 540.67,61.27 541.50,62.50 C542.33,63.73 543.05,64.87 543.80,66.20 C544.55,67.53 545.22,68.95 546.00,70.50 C546.78,72.05 547.70,73.95 548.50,75.50 C549.30,77.05 550.00,78.05 550.80,79.80 C551.60,81.55 552.52,84.22 553.30,86.00 C554.08,87.78 554.85,89.13 555.50,90.50 C556.15,91.87 556.57,92.78 557.20,94.20 C557.83,95.62 558.68,96.95 559.30,99.00 C559.92,101.05 560.45,104.17 560.90,106.50 C561.35,108.83 561.68,110.75 562.00,113.00 C562.32,115.25 562.58,117.50 562.80,120.00 C563.02,122.50 563.12,125.50 563.30,128.00 C563.48,130.50 563.68,132.92 563.90,135.00 C564.12,137.08 564.38,139.33 564.60,140.50 C564.82,141.67 565.00,142.00 565.20,142.00 C565.40,142.00 565.60,142.17 565.80,140.50 C566.00,138.83 566.18,135.08 566.40,132.00 C566.62,128.92 566.77,125.17 567.10,122.00 C567.43,118.83 567.93,115.58 568.40,113.00 C568.87,110.42 569.40,108.58 569.90,106.50 C570.40,104.42 570.88,102.42 571.40,100.50 C571.92,98.58 572.47,97.00 573.00,95.00 C573.53,93.00 573.87,90.58 574.60,88.50 C575.33,86.42 576.57,84.40 577.40,82.50 C578.23,80.60 578.83,78.78 579.60,77.10 C580.37,75.42 581.15,73.85 582.00,72.40 C582.85,70.95 583.80,69.55 584.70,68.40 C585.60,67.25 586.43,66.35 587.40,65.50 C588.37,64.65 589.53,63.97 590.50,63.30 C591.47,62.63 592.35,61.98 593.20,61.50 C594.05,61.02 594.67,60.58 595.60,60.40 C596.53,60.22 597.77,60.30 598.80,60.40 C599.83,60.50 600.77,60.73 601.80,61.00 C602.83,61.27 603.97,61.62 605.00,62.00 C606.03,62.38 606.70,62.65 608.00,63.30 C609.30,63.95 611.38,65.08 612.80,65.90 C614.22,66.72 615.20,67.42 616.50,68.20 C617.80,68.98 619.27,69.82 620.60,70.60 C621.93,71.38 623.22,72.13 624.50,72.90 C625.78,73.67 627.05,74.53 628.30,75.20 C629.55,75.87 630.83,76.50 632.00,76.90 C633.17,77.30 634.30,77.53 635.30,77.60 C636.30,77.67 637.17,77.62 638.00,77.30 C638.83,76.98 639.60,76.35 640.30,75.70 C641.00,75.05 641.60,74.28 642.20,73.40 C642.80,72.52 643.35,71.55 643.90,70.40 C644.45,69.25 644.98,67.77 645.50,66.50 C646.02,65.23 646.48,64.12 647.00,62.80 C647.52,61.48 648.08,59.87 648.60,58.60 C649.12,57.33 649.62,56.22 650.10,55.20 C650.58,54.18 650.97,53.37 651.50,52.50 C652.03,51.63 652.68,50.67 653.30,50.00 C653.92,49.33 654.55,48.90 655.20,48.50 C655.85,48.10 656.40,47.83 657.20,47.60 C658.00,47.37 658.87,47.22 660.00,47.10 C661.13,46.98 661.70,47.00 664.00,46.90 C666.30,46.80 669.47,46.60 673.80,46.50 C678.13,46.40 684.13,46.33 690.00,46.30 C695.87,46.27 705.83,46.30 709.00,46.30" stroke="#0060e0"/>
</g>
<g stroke="#111" stroke-width="1.6" fill="none">
<rect x="99.70" y="8.0" width="239.70" height="188.85"/>
<line x1="99.70" y1="196.85" x2="99.70" y2="205.85"/>
<line x1="128.72" y1="196.85" x2="128.72" y2="201.35"/>
<line x1="157.74" y1="196.85" x2="157.74" y2="205.85"/>
<line x1="186.76" y1="196.85" x2="186.76" y2="201.35"/>
<line x1="215.78" y1="196.85" x2="215.78" y2="205.85"/>
<line x1="244.80" y1="196.85" x2="244.80" y2="201.35"/>
<line x1="273.82" y1="196.85" x2="273.82" y2="205.85"/>
<line x1="302.84" y1="196.85" x2="302.84" y2="201.35"/>
<line x1="331.86" y1="196.85" x2="331.86" y2="205.85"/>
<line x1="99.70" y1="196.66" x2="94.50" y2="196.66"/>
<line x1="99.70" y1="180.90" x2="90.20" y2="180.90"/>
<line x1="99.70" y1="165.14" x2="94.50" y2="165.14"/>
<line x1="99.70" y1="149.38" x2="90.20" y2="149.38"/>
<line x1="99.70" y1="133.62" x2="94.50" y2="133.62"/>
<line x1="99.70" y1="117.86" x2="90.20" y2="117.86"/>
<line x1="99.70" y1="102.10" x2="94.50" y2="102.10"/>
<line x1="99.70" y1="86.34" x2="90.20" y2="86.34"/>
<line x1="99.70" y1="70.58" x2="94.50" y2="70.58"/>
<line x1="99.70" y1="54.82" x2="90.20" y2="54.82"/>
<line x1="99.70" y1="39.06" x2="94.50" y2="39.06"/>
<line x1="99.70" y1="23.30" x2="90.20" y2="23.30"/>
<line x1="99.70" y1="7.54" x2="94.50" y2="7.54"/>
</g>
<g stroke="#111" stroke-width="1.6" fill="none">
<rect x="476.70" y="8.2" width="239.35" height="193.40"/>
<line x1="476.70" y1="201.6" x2="476.70" y2="210.60"/>
<line x1="505.67" y1="201.6" x2="505.67" y2="206.10"/>
<line x1="534.64" y1="201.6" x2="534.64" y2="210.60"/>
<line x1="563.61" y1="201.6" x2="563.61" y2="206.10"/>
<line x1="592.58" y1="201.6" x2="592.58" y2="210.60"/>
<line x1="621.55" y1="201.6" x2="621.55" y2="206.10"/>
<line x1="650.52" y1="201.6" x2="650.52" y2="210.60"/>
<line x1="679.49" y1="201.6" x2="679.49" y2="206.10"/>
<line x1="708.46" y1="201.6" x2="708.46" y2="210.60"/>
<line x1="476.70" y1="190.98" x2="466.70" y2="190.98"/>
<line x1="476.70" y1="172.95" x2="471.50" y2="172.95"/>
<line x1="476.70" y1="154.92" x2="466.70" y2="154.92"/>
<line x1="476.70" y1="136.89" x2="471.50" y2="136.89"/>
<line x1="476.70" y1="118.86" x2="466.70" y2="118.86"/>
<line x1="476.70" y1="100.84" x2="471.50" y2="100.84"/>
<line x1="476.70" y1="82.81" x2="466.70" y2="82.81"/>
<line x1="476.70" y1="64.78" x2="471.50" y2="64.78"/>
<line x1="476.70" y1="46.75" x2="466.70" y2="46.75"/>
<line x1="476.70" y1="28.72" x2="471.50" y2="28.72"/>
<line x1="476.70" y1="10.69" x2="466.70" y2="10.69"/>
</g>
<g font-family="Liberation Sans, sans-serif" fill="#111" stroke="#111" stroke-width="0.15" font-size="14.8">
<text x="83.0" y="184.90" text-anchor="end">0</text>
<text x="83.0" y="153.38" text-anchor="end">20</text>
<text x="83.0" y="121.86" text-anchor="end">40</text>
<text x="83.0" y="90.34" text-anchor="end">60</text>
<text x="83.0" y="58.82" text-anchor="end">80</text>
<text x="83.0" y="27.30" text-anchor="end">100</text>
<text x="99.70" y="223.5" text-anchor="middle">0</text>
<text x="157.74" y="223.5" text-anchor="middle">200</text>
<text x="215.78" y="223.5" text-anchor="middle">400</text>
<text x="273.82" y="223.5" text-anchor="middle">600</text>
<text x="331.86" y="223.5" text-anchor="middle">800</text>
<text x="459.9" y="14.69" text-anchor="end">0.07</text>
<text x="459.9" y="50.75" text-anchor="end">0.00</text>
<text x="459.9" y="86.81" text-anchor="end">-0.07</text>
<text x="459.9" y="122.86" text-anchor="end">-0.14</text>
<text x="459.9" y="158.92" text-anchor="end">-0.21</text>
<text x="459.9" y="194.98" text-anchor="end">-0.28</text>
<text x="476.70" y="228.6" text-anchor="middle">0</text>
<text x="534.64" y="228.6" text-anchor="middle">200</text>
<text x="592.58" y="228.6" text-anchor="middle">400</text>
<text x="650.52" y="228.6" text-anchor="middle">600</text>
<text x="708.46" y="228.6" text-anchor="middle">800</text>
</g>
<g font-family="Liberation Sans, sans-serif" fill="#111" stroke="#111" stroke-width="0.15" font-size="16.9">
<text x="155.1" y="244.2">Temperature (<tspan font-size="11.8" dx="-0.2" dy="-5.0">o</tspan><tspan dx="-0.2" dy="5.0">C)</tspan></text>
<text x="531.5" y="249.1">Temperature (°C)</text>
<text font-size="16.85" transform="translate(47.2,160.7) rotate(-90)">Weight loss (%)</text>
<text font-size="16.75" transform="translate(415.2,182.9) rotate(-90)">Derivative weight (%)</text>
</g>
<g font-family="Liberation Sans, sans-serif" fill="#111" stroke="#111" stroke-width="0.15" font-size="24.5">
<text x="5.2" y="23.9">(a)</text>
<text x="362.2" y="23.6">(b)</text>
</g>
<rect x="221.30" y="13.00" width="113" height="63.4" fill="#fff" stroke="#111" stroke-width="1.6"/>
<line x1="223.10" y1="24.80" x2="261.30" y2="24.80" stroke="#f6ab00" stroke-width="2.1"/>
<text x="265.00" y="30.30" font-family="Liberation Sans, sans-serif" font-size="16.45" fill="#111" stroke="#111" stroke-width="0.15">UCO-Gly</text>
<line x1="223.10" y1="45.00" x2="261.30" y2="45.00" stroke="#ff2e32" stroke-width="2.1"/>
<text x="265.00" y="50.50" font-family="Liberation Sans, sans-serif" font-size="16.45" fill="#111" stroke="#111" stroke-width="0.15">BCNC-1</text>
<line x1="223.10" y1="65.20" x2="261.30" y2="65.20" stroke="#0060e0" stroke-width="2.1"/>
<text x="265.00" y="70.70" font-family="Liberation Sans, sans-serif" font-size="16.45" fill="#111" stroke="#111" stroke-width="0.15">BCNC-2</text>
<rect x="599.00" y="133.80" width="113" height="63.4" fill="#fff" stroke="#111" stroke-width="1.6"/>
<line x1="600.80" y1="145.60" x2="639.00" y2="145.60" stroke="#f6ab00" stroke-width="2.1"/>
<text x="642.70" y="151.10" font-family="Liberation Sans, sans-serif" font-size="16.45" fill="#111" stroke="#111" stroke-width="0.15">UCO-Gly</text>
<line x1="600.80" y1="165.80" x2="639.00" y2="165.80" stroke="#ff2e32" stroke-width="2.1"/>
<text x="642.70" y="171.30" font-family="Liberation Sans, sans-serif" font-size="16.45" fill="#111" stroke="#111" stroke-width="0.15">BCNC-1</text>
<line x1="600.80" y1="186.00" x2="639.00" y2="186.00" stroke="#0060e0" stroke-width="2.1"/>
<text x="642.70" y="191.50" font-family="Liberation Sans, sans-serif" font-size="16.45" fill="#111" stroke="#111" stroke-width="0.15">BCNC-2</text>
</svg>
</body></html>
